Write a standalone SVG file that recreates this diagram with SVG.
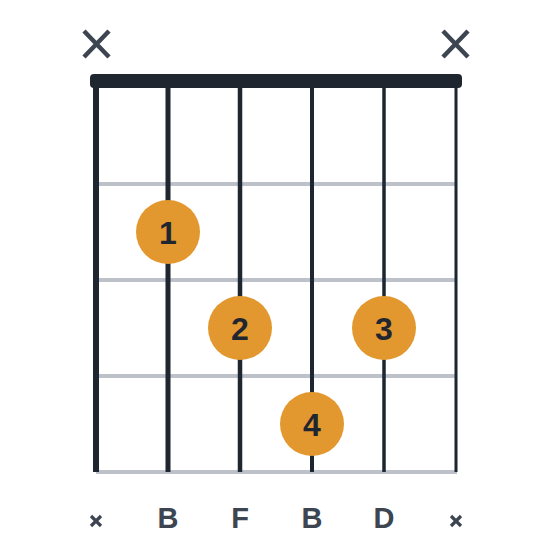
<svg xmlns="http://www.w3.org/2000/svg" width="560" height="560" viewBox="0 0 560 560">
  <style>
    .fret { stroke: #bdc1ca; stroke-width: 4; }
    .string { stroke: #1f2630; }
    .mute { stroke: #3d4551; stroke-linecap: butt; fill: none; }
    .dot { fill: #e3982f; }
    .finger { font-family: "Liberation Sans", Arial, sans-serif; font-weight: bold; font-size: 32px; fill: #1f2630; text-anchor: middle; }
    .note { font-family: "Liberation Sans", Arial, sans-serif; font-weight: bold; font-size: 29px; fill: #3d4551; text-anchor: middle; }
  </style>
  <rect width="560" height="560" fill="#ffffff"/>
  <g id="frets">
    <line class="fret" x1="96" y1="184" x2="457" y2="184"/>
    <line class="fret" x1="96" y1="280" x2="457" y2="280"/>
    <line class="fret" x1="96" y1="376" x2="457" y2="376"/>
    <line class="fret" x1="96" y1="472" x2="457" y2="472"/>
  </g>
  <g id="strings">
    <line class="string" x1="96" y1="84" x2="96" y2="472" stroke-width="6"/>
    <line class="string" x1="168" y1="84" x2="168" y2="472" stroke-width="5"/>
    <line class="string" x1="240" y1="84" x2="240" y2="472" stroke-width="4.5"/>
    <line class="string" x1="312" y1="84" x2="312" y2="472" stroke-width="4"/>
    <line class="string" x1="384" y1="84" x2="384" y2="472" stroke-width="3.5"/>
    <line class="string" x1="456" y1="84" x2="456" y2="472" stroke-width="3"/>
  </g>
  <g id="nut">
    <rect x="90" y="74" width="372" height="14" rx="4" fill="#1f2630"/>
  </g>
  <g id="mute-top-1">
    <path class="mute" stroke-width="4.5" d="M84 31 L109 57 M109 31 L84 57"/>
  </g>
  <g id="mute-top-6">
    <path class="mute" stroke-width="4.5" d="M443 31 L468 57 M468 31 L443 57"/>
  </g>
  <g id="finger-1">
    <circle class="dot" cx="168" cy="232" r="32"/>
    <text class="finger" x="168" y="244">1</text>
  </g>
  <g id="finger-2">
    <circle class="dot" cx="240" cy="328" r="32"/>
    <text class="finger" x="240" y="340">2</text>
  </g>
  <g id="finger-3">
    <circle class="dot" cx="384" cy="328" r="32"/>
    <text class="finger" x="384" y="340">3</text>
  </g>
  <g id="finger-4">
    <circle class="dot" cx="312" cy="424" r="32"/>
    <text class="finger" x="312" y="436">4</text>
  </g>
  <g id="labels">
    <path class="mute" stroke-width="3.2" d="M91 516 L101 526 M101 516 L91 526"/>
    <text class="note" x="168" y="528">B</text>
    <text class="note" x="240" y="528">F</text>
    <text class="note" x="312" y="528">B</text>
    <text class="note" x="384" y="528">D</text>
    <path class="mute" stroke-width="3.2" d="M451 516 L461 526 M461 516 L451 526"/>
  </g>
</svg>
